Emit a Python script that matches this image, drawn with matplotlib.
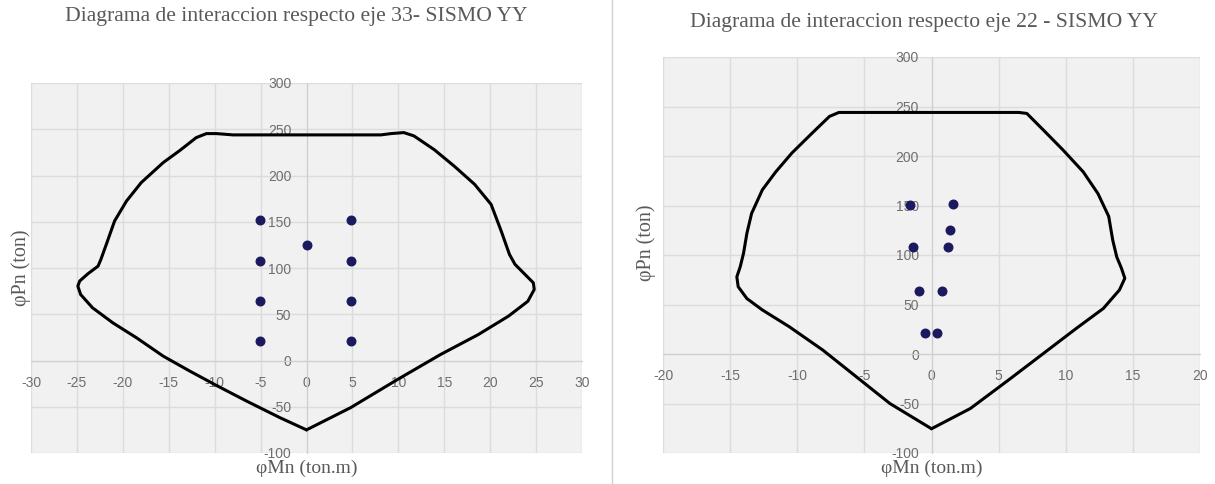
import matplotlib.pyplot as plt
from matplotlib.lines import Line2D

plt.rcParams["axes.unicode_minus"] = False

# Diagrama eje 33 (curva cerrada)
m33 = [0, -2.85, -6.5, -9.8, -12.7, -15.6, -18.5, -21.1, -23.3, -24.6, -24.9, -24.7, -23.8,
       -22.7, -22.4, -21.8, -20.9, -19.6, -18.0, -15.6, -13.8, -12.0, -10.9, -9.8, -8.0, 0,
       8.1, 9.2, 10.6, 11.7, 13.9, 16.1, 18.3, 20.1, 21.2, 22.1, 22.7, 23.8, 24.7, 24.8,
       24.1, 22.0, 18.7, 14.6, 9.9, 4.8, 0]
p33 = [-75, -62, -44, -27, -11.5, 4.7, 24.5, 40.8, 57, 71.4, 80.4, 85.9, 93.8,
       102, 109, 125.5, 150.8, 172.4, 192.3, 214, 227, 241, 245.3, 245.3, 243.9, 243.9,
       243.9, 245.3, 246.4, 242.8, 228, 210, 190.5, 168.8, 140, 114.7, 104, 93, 84, 76.8,
       64, 48, 28, 6.5, -20.6, -51, -75]
sm33 = [-5.1, 4.9, 0, -5.1, 4.9, -5.1, 4.9, -5.1, 4.9]
sp33 = [151.5, 151.5, 124.8, 107.5, 107.5, 64.2, 64.2, 20.9, 20.9]

# Diagrama eje 22
m22 = [0, -3.1, -5.6, -8.1, -10.6, -12.6, -13.75, -14.4, -14.5, -14.25, -14.0, -13.75, -13.4,
       -12.6, -11.6, -10.4, -8.9, -7.6, -6.9, 0, 6.5, 7.1, 8.35, 9.8, 11.3, 12.4, 13.2,
       13.5, 13.8, 14.15, 14.4, 14.0, 12.8, 10.8, 8.35, 5.9, 2.9, 0]
p22 = [-75.5, -50, -23, 4, 27.6, 44.5, 56, 68, 78, 88, 101.8, 122, 142,
       165.8, 184, 203, 223, 240, 244, 244, 244, 243, 226, 206, 184, 162, 139,
       115, 98, 86.6, 76.5, 64.7, 46, 26, 0.7, -24.6, -55, -75.5]
sm22 = [-1.58, 1.6, 1.36, -1.4, 1.26, -0.93, 0.77, -0.5, 0.44]
sp22 = [150.6, 151.3, 125.3, 108.5, 108.5, 64, 64, 20.9, 20.9]

GRAY = "#595959"
TICK_GRAY = "#6e6e6e"
SERIF = "Liberation Serif"


def setup(ax, xlim, xstep, ypad, xpad, xlab_y):
    ax.set_facecolor("#f1f1f1")
    ax.set_xlim(*xlim)
    ax.set_ylim(-100, 300)
    ax.set_xticks(range(xlim[0], xlim[1] + 1, xstep))
    ax.set_yticks(range(-100, 301, 50))
    ax.grid(color="#dcdcdc", linewidth=1.0)
    ax.set_axisbelow(True)
    for s in ["top", "right"]:
        ax.spines[s].set_visible(False)
    ax.spines["left"].set_position(("data", 0))
    ax.spines["bottom"].set_position(("data", 0))
    ax.spines["left"].set_color("#cfcfcf")
    ax.spines["bottom"].set_color("#cfcfcf")
    ax.tick_params(axis="x", length=0, pad=xpad, labelsize=10, labelcolor=TICK_GRAY)
    ax.tick_params(axis="y", length=0, pad=ypad, labelsize=10, labelcolor=TICK_GRAY)
    for lb in ax.get_xticklabels() + ax.get_yticklabels():
        lb.set_fontfamily("Liberation Sans")
    ax.set_xlabel("φMn (ton.m)", fontsize=14, color=GRAY, family=SERIF)
    ax.set_ylabel("φPn (ton)", fontsize=14.5, color=GRAY, family=SERIF)
    ax.xaxis.set_label_coords(0.5, xlab_y)


fig = plt.figure(figsize=(12.15, 4.84), dpi=100)
W, H = 1215, 484

ax1 = fig.add_axes([31 / W, 1 - 453 / H, (582 - 31) / W, (453 - 83) / H])
ax2 = fig.add_axes([663 / W, 1 - 453 / H, (1200 - 663) / W, (453 - 57) / H])

setup(ax1, (-30, 30), 5, 11, 11, -0.017)
setup(ax2, (-20, 20), 5, 9, 11, -0.016)
ax1.yaxis.set_label_coords(0.0, 0.5)
ax2.yaxis.set_label_coords(-0.013, 0.53)

ax1.plot(m33, p33, color="black", linewidth=2.2, zorder=4,
         solid_joinstyle="round", solid_capstyle="round")
ax1.scatter(sm33, sp33, s=38, color="#1c1a5e", zorder=5)
ax2.plot(m22, p22, color="black", linewidth=2.2, zorder=4,
         solid_joinstyle="round", solid_capstyle="round")
ax2.scatter(sm22, sp22, s=38, color="#1c1a5e", zorder=5)

fig.text(296 / W, 1 - 17 / H, "Diagrama de interaccion respecto eje 33- SISMO YY",
         ha="center", va="center", fontsize=15.6, color=GRAY, family=SERIF)
fig.text(924 / W, 1 - 22 / H, "Diagrama de interaccion respecto eje 22 - SISMO YY",
         ha="center", va="center", fontsize=15.6, color=GRAY, family=SERIF)

fig.add_artist(Line2D([612 / W, 612 / W], [0, 1], color="#d0d0d0", linewidth=1.0))

fig.savefig("out.png", dpi=100)
